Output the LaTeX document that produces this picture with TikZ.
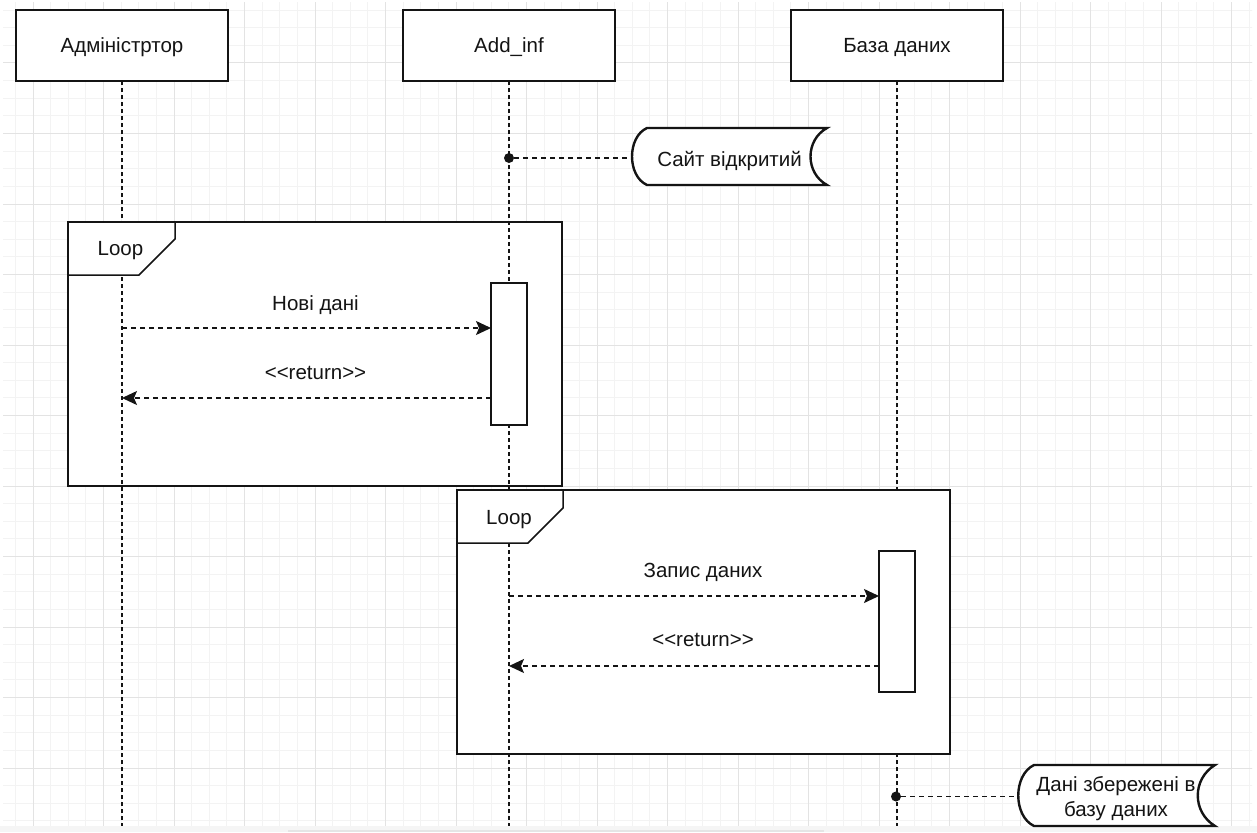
\documentclass[tikz,border=0pt]{standalone}
\usepackage{fontspec}
\setmainfont{Liberation Sans}
\usetikzlibrary{arrows.meta,calc}
\definecolor{gridminor}{HTML}{F3F3F3}
\definecolor{gridmajor}{HTML}{E3E3E3}
\definecolor{ink}{HTML}{141414}
\newcommand{\retlabel}{<\kern0pt<\kern0pt return>\kern0pt>}
\begin{document}
\begin{tikzpicture}[x=1pt,y=-1pt,
  every node/.style={outer sep=0pt},
  txt/.style={font=\fontsize{20.5}{25}\selectfont,text=ink,inner sep=0pt},
  actor/.style={txt,draw=ink,line width=1.8pt,fill=white,minimum width=212pt,minimum height=71pt,text height=15pt,text depth=0pt},
  lifeline/.style={draw=ink,line width=1.6pt,dash pattern=on 4pt off 3pt},
  frame/.style={draw=ink,line width=1.5pt,fill=white,inner sep=0pt,anchor=north west},
  looplab/.style={draw=ink,line width=1.5pt,fill=white,line join=miter},
  actbox/.style={draw=ink,line width=1.5pt,fill=white,minimum width=36pt,inner sep=0pt},
  msg/.style={draw=ink,line width=1.5pt,dash pattern=on 5pt off 4pt,-{Stealth[length=15pt,width=14pt,inset=3pt]}},
  notelink/.style={draw=ink,line width=1.5pt,dash pattern=on 5pt off 4pt},
  noteline/.style={draw=ink,line width=2.4pt,fill=white},
  dotmark/.style={circle,fill=ink,minimum size=10pt,inner sep=0pt}
]
\useasboundingbox (0,0) rectangle (1257,832);
\fill[white] (0,0) rectangle (1257,832);
% grid
\begin{scope}
  \clip (3,3) rectangle (1252,825);
  \foreach \n in {0,...,70} \draw[gridminor,line width=1pt] ({15.375+17.625*\n},0) -- ++(0,832);
  \foreach \n in {0,...,46} \draw[gridminor,line width=1pt] (0,{10.125+17.625*\n}) -- ++(1257,0);
  \foreach \m in {0,...,17} \draw[gridmajor,line width=1pt] ({33+70.5*\m},0) -- ++(0,832);
  \foreach \m in {0,...,10} \draw[gridmajor,line width=1pt] (0,{63+70.5*\m}) -- ++(1257,0);
\end{scope}
\fill[black!4] (0,826) rectangle (1257,832);
\fill[black!10] (288,829.5) rectangle (824,832);

% actors
\node[actor] (adm) at (122,45.5) {Адміністртор};
\node[actor] (add) at (509,45.5) {Add\_inf};
\node[actor] (db)  at (897,45.5) {База даних};
\coordinate (admEnd) at (122,826);
\coordinate (addEnd) at (509,826);
\coordinate (dbEnd)  at (897,826);

% database lifeline (hidden by second frame)
\draw[lifeline] (db) -- (dbEnd);

% loop frames
\node[frame,minimum width=494pt,minimum height=264pt] (loop1) at (68,222) {};
\node[frame,minimum width=493pt,minimum height=264pt] (loop2) at (457,490) {};

% lifelines visible inside frames
\draw[lifeline] (adm) -- (admEnd);
\draw[lifeline] (add) -- (addEnd);

% loop labels
\draw[looplab] (loop1.north west) -- ++(107,0) -- ++(0,17) -- ++(-36,36) -- ++(-71,0) -- cycle;
\node[txt,anchor=base] (loop1lab) at ($(loop1.north west)+(52.5,33.7)$) {Loop};
\draw[looplab] (loop2.north west) -- ++(106,0) -- ++(0,18) -- ++(-35,35) -- ++(-71,0) -- cycle;
\node[txt,anchor=base] (loop2lab) at ($(loop2.north west)+(52,34)$) {Loop};

% activations
\node[actbox,minimum height=142pt] (act1) at (509,354) {};
\node[actbox,minimum height=141pt] (act2) at (897,621.5) {};

% messages
\coordinate (m1) at (122,328);
\coordinate (r1) at (122,398);
\coordinate (m2) at (509,596);
\coordinate (r2) at (509,666);
\draw[msg] (m1) -- (m1 -| act1.west);
\draw[msg] (r1 -| act1.west) -- (r1);
\draw[msg] (m2) -- (m2 -| act2.west);
\draw[msg] (r2 -| act2.west) -- (r2);
\node[txt,anchor=base] (l1) at (315.5,310) {Нові дані};
\node[txt,anchor=base] (l2) at (315.5,379.3) {\retlabel};
\node[txt,anchor=base] (l3) at (703,577.7) {Запис даних};
\node[txt,anchor=base] (l4) at (703,646.7) {\retlabel};

% notes
\node[txt,minimum width=195pt,minimum height=57pt] (note1) at (729.5,156.5) {};
\draw[noteline] ($(note1.north west)+(15,0)$) -- (note1.north east)
  .. controls +(-22,12) and +(-22,-12) .. (note1.south east)
  -- ($(note1.south west)+(15,0)$)
  .. controls +(-20,-9) and +(-20,9) .. ($(note1.north west)+(15,0)$) -- cycle;
\node[txt,anchor=base] (note1txt) at (729.5,166.5) {Сайт відкритий};

\node[txt,minimum width=197pt,minimum height=61pt] (note2) at (1116.5,795.5) {};
\draw[noteline] ($(note2.north west)+(16,0)$) -- (note2.north east)
  .. controls +(-23,14) and +(-23,-14) .. (note2.south east)
  -- ($(note2.south west)+(16,0)$)
  .. controls +(-21,-10) and +(-21,10) .. ($(note2.north west)+(16,0)$) -- cycle;
\node[txt,align=center] (note2txt) at (1116,799) {Дані збережені в\\базу даних};

\node[dotmark] (dot1) at (509,158) {};
\node[dotmark] (dot2) at (896,796.5) {};
\draw[notelink] (dot1) -- (dot1 -| note1.west);
\draw[notelink] (dot2) -- (dot2 -| note2.west);
\end{tikzpicture}
\end{document}
